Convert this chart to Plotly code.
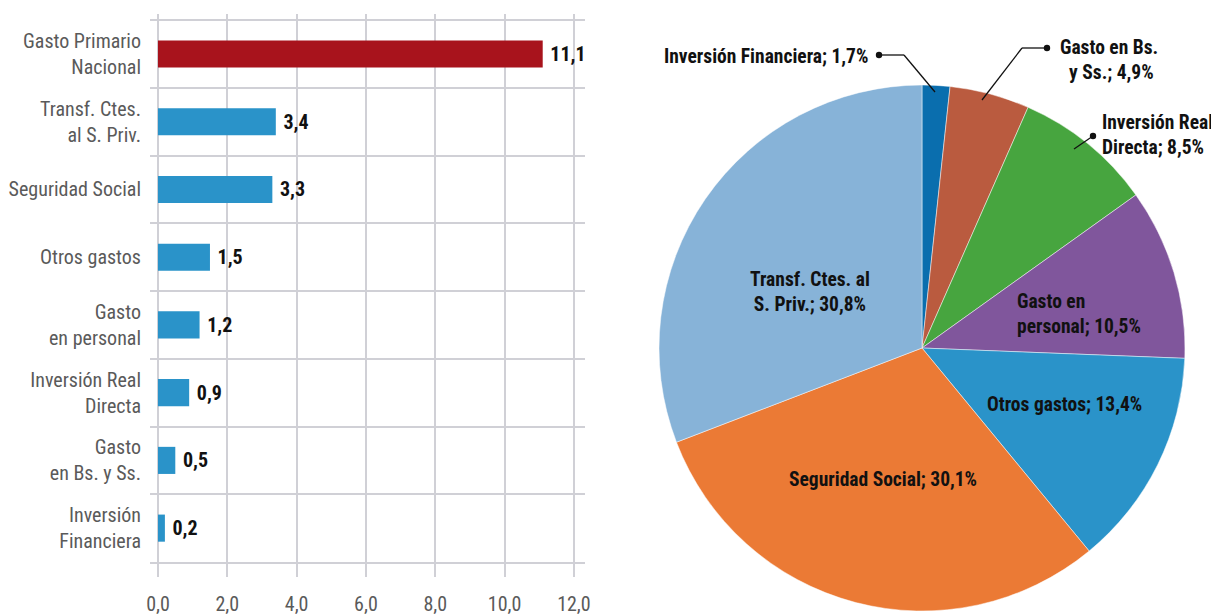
import plotly.graph_objects as go

W, H = 1219, 616
OFF = 8  # page body margin of the exported html

# bar chart data (top to bottom)
bar_labels = ["Gasto Primario<br>Nacional", "Transf. Ctes.<br>al S. Priv.", "Seguridad Social",
              "Otros gastos", "Gasto<br>en personal", "Inversión Real<br>Directa",
              "Gasto<br>en Bs. y Ss.", "Inversión<br>Financiera"]
bar_values = [11.1, 3.4, 3.3, 1.5, 1.2, 0.9, 0.5, 0.2]
x_ticks = [0, 2, 4, 6, 8, 10, 12]

# pie data (clockwise from 12 o'clock)
pie_labels = ["Inversión Financiera", "Gasto en Bs. y Ss.", "Inversión Real Directa",
              "Gasto en personal", "Otros gastos", "Seguridad Social", "Transf. Ctes. al S. Priv."]
pie_text_names = ["Inversión Financiera", "Gasto en Bs.<br> y Ss.", "Inversión Real<br>Directa",
                  "Gasto en<br>personal", "Otros gastos", "Seguridad Social", "Transf. Ctes. al<br>S. Priv."]
pie_shares = [1.7, 4.9, 8.5, 10.5, 13.4, 30.1, 30.8]
pie_colors = ["#0A6EAE", "#BA5B3F", "#47A53F", "#80569C", "#2A93C9", "#EB7A35", "#87B3D8"]

FONT = "Roboto Condensed, Liberation Sans Narrow, Roboto, sans-serif"
RED = "#A8131C"
BLUE = "#2A93C9"
GRID = "#D0D0D6"


def px(x, y):
    # screen pixel -> paper fraction
    return (x - OFF) / W, 1 - (y - OFF) / H


fig = go.Figure()

fig.add_trace(go.Bar(
    x=bar_values,
    y=bar_labels,
    orientation="h",
    width=0.4,
    marker=dict(color=[RED] + [BLUE] * (len(bar_values) - 1), line=dict(width=0)),
    texttemplate="<b>\u00a0%{x:.1f}</b>",
    textposition="outside",
    textfont=dict(size=20, color="#111111", family=FONT),
    cliponaxis=False,
    hoverinfo="skip",
))

pie_x0, pie_y1 = px(659, 85)
pie_x1, pie_y0 = px(1185, 611)
fig.add_trace(go.Pie(
    values=pie_shares,
    labels=pie_labels,
    sort=False,
    direction="clockwise",
    rotation=0,
    marker=dict(colors=pie_colors, line=dict(color="rgba(255,255,255,0.6)", width=0.8)),
    textinfo="none",
    domain=dict(x=[pie_x0, pie_x1], y=[pie_y0, pie_y1]),
    showlegend=False,
    hoverinfo="label+percent",
))

# pie labels
label_pos = [
    (870, 56, "right", "left"),
    (1058, 60, "left", "center"),
    (1100, 135, "left", "left"),
    (1015, 314, "left", "left"),
    (1064, 404, "center", "center"),
    (883, 479, "center", "center"),
    (810, 292, "center", "center"),
]
annotations = []
for name, share, (x, y, xa, al) in zip(pie_text_names, pie_shares, label_pos):
    xx, yy = px(x, y)
    annotations.append(dict(
        x=xx, y=yy, xref="paper", yref="paper", xanchor=xa, yanchor="middle", align=al,
        text="<b>%s; %s%%</b>" % (name, ("%.1f" % share).replace(".", ",")),
        showarrow=False, font=dict(size=19.5, color="#111111", family=FONT),
    ))

# leader lines with dots
leaders = [
    [(879, 55), (904, 55), (935, 92)],
    [(1047, 48), (1022, 48), (982, 100)],
    [(1093, 136), (1074, 149)],
]
shapes = []
for pts in leaders:
    for (x0, y0), (x1, y1) in zip(pts[:-1], pts[1:]):
        a0, b0 = px(x0, y0)
        a1, b1 = px(x1, y1)
        shapes.append(dict(type="line", xref="paper", yref="paper", x0=a0, y0=b0, x1=a1, y1=b1,
                           line=dict(color="#111111", width=1.3)))
    dx, dy = pts[0]
    c0 = px(dx - 3.2, dy + 3.2)
    c1 = px(dx + 3.2, dy - 3.2)
    shapes.append(dict(type="circle", xref="paper", yref="paper", x0=c0[0], y0=c0[1], x1=c1[0], y1=c1[1],
                       fillcolor="#111111", line=dict(color="#111111", width=0)))

xa0, ya1 = px(150, 14)
xa1, ya0 = px(585, 562)

fig.update_layout(
    width=W, height=H,
    margin=dict(l=0, r=0, t=0, b=0),
    paper_bgcolor="white",
    plot_bgcolor="white",
    separators=",.",
    font=dict(family=FONT, size=20, color="#5a5a5a"),
    showlegend=False,
    xaxis=dict(
        domain=[xa0, xa1],
        range=[-0.23, 12.32],
        tickvals=x_ticks,
        tickformat=".1f",
        showgrid=True, gridcolor=GRID, gridwidth=1.6,
        zeroline=False,
        showline=True, linecolor=GRID, linewidth=1.6,
        ticks="outside", ticklen=13, tickwidth=1.6, tickcolor=GRID,
        ticklabelstandoff=10,
        tickfont=dict(size=20, color="#5a5a5a", family=FONT),
        automargin=False,
    ),
    yaxis=dict(
        domain=[ya0, ya1],
        type="category",
        categoryorder="array",
        categoryarray=bar_labels,
        range=[7.5, -0.59],
        tickson="boundaries",
        showgrid=True, gridcolor=GRID, gridwidth=1.6,
        ticks="",
        ticklabelstandoff=8,
        zeroline=False,
        showline=False,
        tickfont=dict(size=20, color="#5a5a5a", family=FONT),
        automargin=False,
    ),
    annotations=annotations,
    shapes=shapes,
)

fig.write_html("out.html")
